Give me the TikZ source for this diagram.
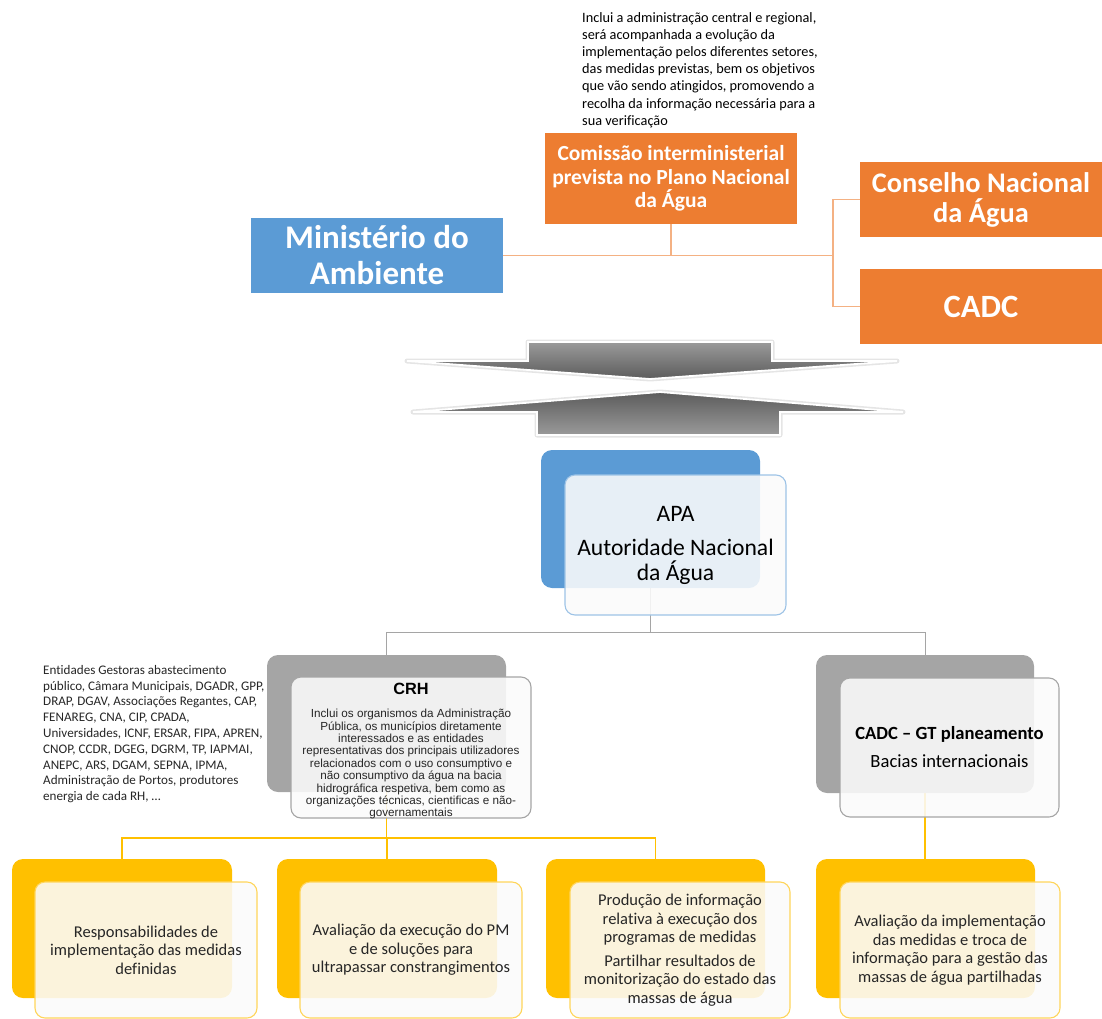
\documentclass[tikz,border=0pt]{standalone}
\usepackage{fontspec}
\setmainfont{Carlito}[Ligatures=NoCommon]
\newfontfamily\arialfont{Liberation Sans}
\usetikzlibrary{backgrounds}
\definecolor{orgC}{HTML}{ED7D31}
\definecolor{orgL}{HTML}{F4B183}
\definecolor{bluC}{HTML}{5B9BD5}
\definecolor{bluL}{HTML}{9DC3E6}
\definecolor{gryC}{HTML}{A5A5A5}
\definecolor{gldC}{HTML}{FFC000}
\definecolor{gldL}{HTML}{FFD55A}
\definecolor{txtC}{HTML}{262626}
\definecolor{arrA}{HTML}{9A9A9A}
\definecolor{arrB}{HTML}{5C5C5C}
\newcommand\fsz[2]{\fontsize{#1}{#2}\selectfont}
\begin{document}
\begin{tikzpicture}[x=1pt,y=-1pt,
  flat/.style={inner sep=0pt, align=center, text=white},
  backbox/.style={rounded corners=11pt, inner sep=0pt, minimum width=220pt, minimum height=139pt},
  frontbox/.style={rounded corners=10pt, inner sep=0pt, minimum width=222pt, minimum height=136pt,
    fill={rgb,255:red,251;green,251;blue,251}, fill opacity=0.88, text opacity=1,
    line width=1.1pt, align=center, text=txtC, font=\fsz{16.5}{18.5}},
  orgline/.style={draw=orgL, line width=1.3pt},
  gryline/.style={draw=gryC, line width=1pt},
  gldline/.style={draw=gldC, line width=1.2pt},
  arrshadow/.style={draw=black!10, line width=5pt, line join=round},
  arrbody/.style={draw=white, line width=1.8pt, line join=miter}
]
\useasboundingbox (0,0) rectangle (1102,1019);

% ---------- top note ----------
\node[anchor=north west, inner sep=0pt, align=left, font=\fsz{14.3}{17.2}, text=black] (note) at (582,12)
 {Inclui a administração central e regional,\\
  será acompanhada a evolução da\\
  implementação pelos diferentes setores,\\
  das medidas previstas, bem os objetivos\\
  que vão sendo atingidos, promovendo a\\
  recolha da informação necessária para a\\
  sua verificação};

% ---------- top level ----------
\node[flat, fill=orgC, minimum width=252pt, minimum height=91pt, font=\bfseries\fsz{21.5}{23.5}] (com) at (671,178.5)
 {Comissão interministerial\\prevista no Plano Nacional\\da Água};
\node[flat, fill=orgC, minimum width=242pt, minimum height=75pt, font=\bfseries\fsz{28.4}{30}] (cons) at (981,199.5)
 {Conselho Nacional\\da Água};
\node[flat, fill=orgC, minimum width=242pt, minimum height=75pt, font=\bfseries\fsz{32.5}{34}] (cadc) at (981,306.5)
 {CADC};
\node[flat, fill=bluC, minimum width=252pt, minimum height=75pt, font=\bfseries\fsz{33}{36}] (min) at (377,255.5)
 {Ministério do\\Ambiente};

\coordinate (jr) at (833,255.5);
\draw[orgline] (min.east) -- (jr);
\draw[orgline] (com.south) -- (com.south |- min.east);
\draw[orgline] (cons.west) -| (jr) |- (cadc.west);

% ---------- arrows ----------
\path[arrshadow] (407,361) -- (528,361) -- (528,342) -- (772,342) -- (772,361) -- (897,361) -- (650,379) -- cycle;
\path[arrbody, top color=arrA, bottom color=arrB] (407,361) -- (528,361) -- (528,342) -- (772,342) -- (772,361) -- (897,361) -- (650,379) -- cycle;
\path[arrshadow] (413,412) -- (660,392) -- (903,412) -- (780,412) -- (780,435) -- (537,435) -- (537,412) -- cycle;
\path[arrbody, top color=arrB, bottom color=arrA] (413,412) -- (660,392) -- (903,412) -- (780,412) -- (780,435) -- (537,435) -- (537,412) -- cycle;

% ---------- APA ----------
\node[backbox, fill=bluC, minimum width=219pt, minimum height=138pt] (apab) at (650.5,519) {};
\node[frontbox, draw=bluL, minimum width=221pt, minimum height=140pt, font=\fsz{23.6}{25}, text=black] (apaf) at (675.5,545)
 {APA\\[9pt]Autoridade Nacional\\da Água};

% ---------- CRH ----------
\node[backbox, fill=gryC, minimum width=239pt, minimum height=137pt] (crhb) at (386.5,723.5) {};
\node[frontbox, draw=gryC, minimum width=240pt, minimum height=141pt] (crhf) at (411,747.5) {};
\node[inner sep=0pt, font=\arialfont\bfseries\fsz{16.3}{19}, text=black] (crht) at (411,689) {CRH};
\node[anchor=north, inner sep=0pt, align=center, font=\arialfont\fsz{11.7}{12.4}, text=txtC] (crhd) at (411,709)
 {Inclui os organismos da Administração\\
  Pública, os municípios diretamente\\
  interessados e as entidades\\
  representativas dos principais utilizadores\\
  relacionados com o uso consumptivo e\\
  não consumptivo da água na bacia\\
  hidrográfica respetiva, bem como as\\
  organizações técnicas, cientificas e não-\\
  governamentais};

\node[anchor=north west, inner sep=0pt, align=left, font=\fsz{13.1}{15.8}, text=txtC] (ent) at (43,665)
 {Entidades Gestoras abastecimento\\
  público, Câmara Municipais, DGADR, GPP,\\
  DRAP, DGAV, Associações Regantes, CAP,\\
  FENAREG, CNA, CIP, CPADA,\\
  Universidades, ICNF, ERSAR, FIPA, APREN,\\
  CNOP, CCDR, DGEG, DGRM, TP, IAPMAI,\\
  ANEPC, ARS, DGAM, SEPNA, IPMA,\\
  Administração de Portos, produtores\\
  energia de cada RH, …};

% ---------- CADC GT ----------
\node[backbox, fill=gryC, minimum width=218pt, minimum height=138pt] (gtb) at (925,724) {};
\node[frontbox, draw=gryC, minimum width=219pt, minimum height=139pt, font=\fsz{18.6}{20}, text=black] (gtf) at (949.5,747.5)
 {\textbf{CADC – GT planeamento}\\[8pt]Bacias internacionais};

% ---------- bottom ----------
\node[backbox, fill=gldC] (b1b) at (122,928.5) {};
\node[frontbox, draw=gldL] (b1f) at (146,950)
 {Responsabilidades de\\implementação das medidas\\definidas};
\node[backbox, fill=gldC] (b2b) at (387,928.5) {};
\node[frontbox, draw=gldL] (b2f) at (411,950)
 {Avaliação da execução do PM\\e de soluções para\\ultrapassar constrangimentos};
\node[backbox, fill=gldC, minimum width=219pt] (b3b) at (655.5,928.5) {};
\node[frontbox, draw=gldL, minimum width=220pt] (b3f) at (680,950)
 {Produção de informação\\relativa à execução dos\\programas de medidas\\[5pt]Partilhar resultados de\\monitorização do estado das\\massas de água};
\node[backbox, fill=gldC, minimum width=219pt] (b4b) at (925.5,928.5) {};
\node[frontbox, draw=gldL, minimum width=220pt] (b4f) at (950,950)
 {Avaliação da implementação\\das medidas e troca de\\informação para a gestão das\\massas de água partilhadas};

% ---------- connectors on background ----------
\begin{pgfonlayer}{background}
\coordinate (ja) at (650.5,632);
\draw[gryline] (apab.south) -- (ja);
\draw[gryline] (crhb.north) |- (ja);
\draw[gryline] (gtb.north) |- (ja);
\coordinate (jg) at (386.5,838);
\draw[gldline] (crhb.south) -- (jg);
\draw[gldline] (b1b.north) |- (jg);
\draw[gldline] (b3b.north) |- (jg);
\draw[gldline] (b2b.north |- jg) -- (b2b.north);
\draw[gldline] (gtb.south) -- (gtb.south |- b4b.north);
\end{pgfonlayer}
\end{tikzpicture}
\end{document}
